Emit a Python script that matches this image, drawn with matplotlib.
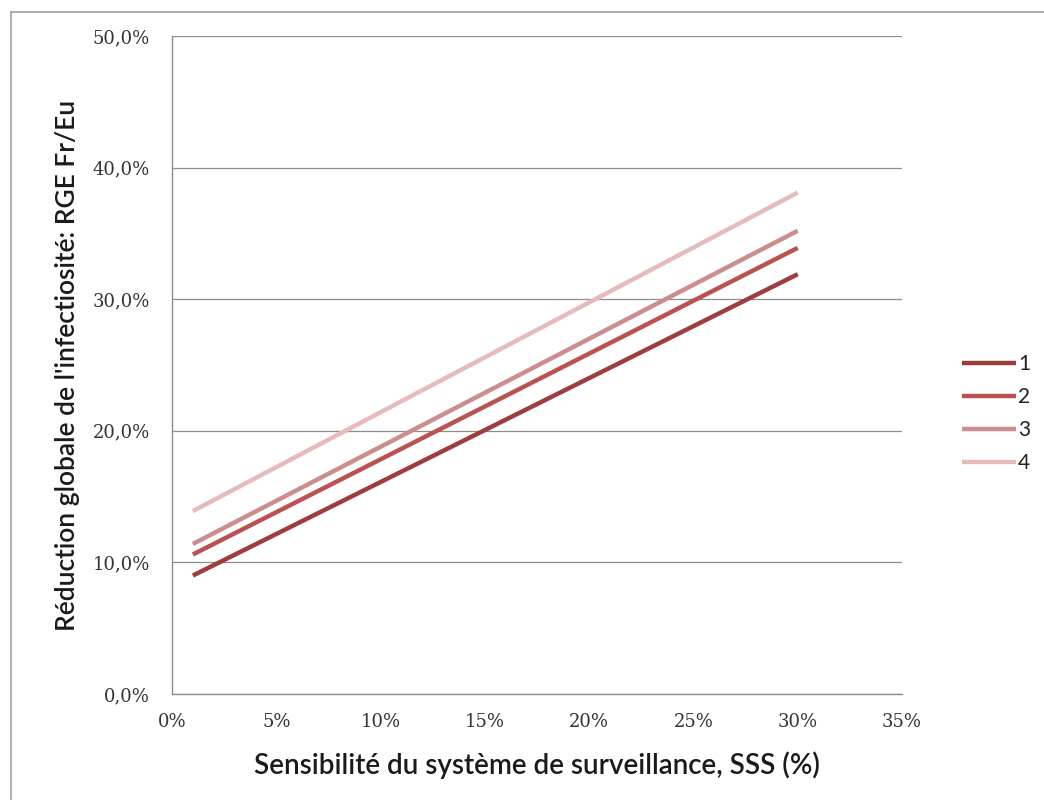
import matplotlib
matplotlib.use("Agg")
import matplotlib.pyplot as plt
from matplotlib.lines import Line2D
from matplotlib.ticker import FuncFormatter, MultipleLocator

# Data (percent)
sss = [1, 30]
series_names = ["1", "2", "3", "4"]
series_values = [
    [9.0, 31.9],
    [10.6, 33.9],
    [11.4, 35.2],
    [13.9, 38.1],
]
colors = ["#9E3D3C", "#BA5350", "#CC8D8F", "#E5BCBB"]
x_label = "Sensibilité du système de surveillance, SSS (%)"
y_label = "Réduction globale de l'infectiosité: RGE Fr/Eu"

plt.rcParams['font.family'] = ['Lato', 'DejaVu Sans']

W, H = 1044, 800
fig = plt.figure(figsize=(W / 100, H / 100), dpi=100)
fig.patch.set_facecolor("white")

# plot area: x 172..902, y 36..694 (pixels)
left, right, top, bottom = 172, 902, 36, 694
ax = fig.add_axes([left / W, 1 - bottom / H, (right - left) / W, (bottom - top) / H])

for name, vals, c in zip(series_names, series_values, colors):
    ax.plot(sss, vals, color=c, lw=3.2, label=name, solid_capstyle="butt")

ax.set_xlim(0, 35)
ax.set_ylim(0, 50)
ax.xaxis.set_major_locator(MultipleLocator(5))
ax.yaxis.set_major_locator(MultipleLocator(10))
ax.xaxis.set_major_formatter(FuncFormatter(lambda v, p: f"{int(round(v))}%"))
ax.yaxis.set_major_formatter(FuncFormatter(lambda v, p: f"{v:.1f}%".replace(".", ",")))
ax.grid(axis="y", color="#8c8c8c", lw=0.9)
ax.set_axisbelow(True)
for s in ["top", "right"]:
    ax.spines[s].set_visible(False)
for s in ["left", "bottom"]:
    ax.spines[s].set_color("#8c8c8c")
    ax.spines[s].set_linewidth(1.0)
ax.tick_params(axis="both", length=0, colors="#333333")
ax.tick_params(axis="y", pad=16)
ax.tick_params(axis="x", pad=14)
for lab in ax.get_xticklabels() + ax.get_yticklabels():
    lab.set_fontfamily(['DejaVu Serif'])
    lab.set_fontsize(13)
ax.set_xlabel(x_label, fontsize=20, labelpad=14, color="#1a1a1a", fontweight="semibold")
ax.set_ylabel(y_label, fontsize=19, labelpad=9, color="#1a1a1a", fontweight="semibold")

leg = ax.legend(loc="center left", bbox_to_anchor=(1.056, 0.426), frameon=False,
                fontsize=15, handlelength=2.6, handletextpad=0.1, labelspacing=0.62)
for t in leg.get_texts():
    t.set_color("#222222")

# Outer chart border (cropped at right/bottom)
fig.add_artist(Line2D([11 / W, 11 / W], [1 - 12 / H, 0], transform=fig.transFigure, color="#a0a0a0", lw=1.2))
fig.add_artist(Line2D([11 / W, 1], [1 - 12 / H, 1 - 12 / H], transform=fig.transFigure, color="#a0a0a0", lw=1.2))

fig.savefig("out.png", dpi=100, facecolor="white")
